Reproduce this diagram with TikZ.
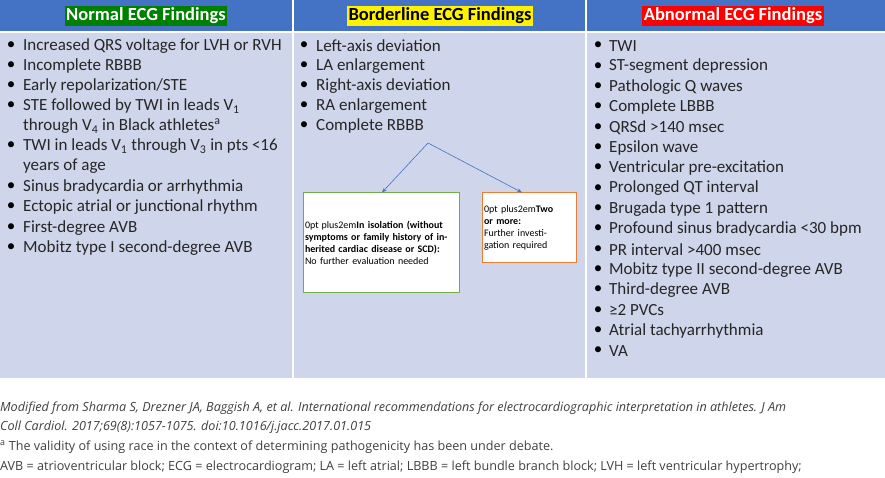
\documentclass[tikz,border=0pt]{standalone}
\usepackage{fontspec}
\setmainfont{Carlito}
\newfontfamily\fnfont{Open Sans}
\usetikzlibrary{arrows.meta}
\definecolor{hdr}{HTML}{4472C4}
\definecolor{cell}{HTML}{CFD5EA}
\definecolor{gr}{HTML}{70AD47}
\definecolor{org}{HTML}{ED7D31}
\definecolor{fn}{HTML}{404040}
\tikzset{
 it/.style={anchor=west,inner sep=0pt,font=\fontsize{17}{19}\selectfont,text=black!85},
 bul/.style={anchor=center,inner sep=0pt,font=\fontsize{17}{19}\selectfont},
 hd/.style={inner sep=1.5pt,font=\fontsize{18.5}{20}\selectfont\bfseries},
 bx/.style={draw=#1,line width=1pt,fill=white,align=center,font=\hyphenpenalty=10000\fontsize{12.5}{15.5}\selectfont},
 fnt/.style={anchor=west,inner sep=0pt,text=fn,font=\fnfont\fontsize{12.6}{14}\selectfont},
 arr/.style={draw=hdr,-{Stealth[length=5pt]},line width=0.6pt}
}
\begin{document}
\begin{tikzpicture}[x=1pt,y=-1pt]
\useasboundingbox (0,0) rectangle (885,478);
\clip (0,0) rectangle (885,478);
\fill[white] (0,0) rectangle (885,478);
\fill[hdr] (0,0) rectangle (292,31);
\fill[hdr] (294,0) rectangle (585,31);
\fill[hdr] (587,0) rectangle (885,31);
\fill[cell] (0,33) rectangle (292,378);
\fill[cell] (294,33) rectangle (585,378);
\fill[cell] (587,33) rectangle (885,378);
\node[hd,fill=green!50!black,text=white] (h1) at (146,16) {Normal ECG Findings};
\node[hd,fill=yellow,text=black] (h2) at (440,16) {Borderline ECG Findings};
\node[hd,fill=red,text=white] (h3) at (733,16) {Abnormal ECG Findings};
% normal
\foreach \t/\y [count=\i] in {{Increased QRS voltage for LVH or RVH}/46,{Incomplete RBBB}/66,{Early repolarization/STE}/86,{STE followed by TWI in leads V\textsubscript{1}}/106,{TWI in leads V\textsubscript{1} through V\textsubscript{3} in pts <16}/146,{Sinus bradycardia or arrhythmia}/187,{Ectopic atrial or junctional rhythm}/207,{First-degree AVB}/228,{Mobitz type I second-degree AVB}/248}{
 \node[bul] (nb\i) at (11,\y) {•};
 \node[it] (n\i) at (23,\y) {\t};
}
\node[it] (n4b) at (23,126) {through V\textsubscript{4} in Black athletes\textsuperscript{a}};
\node[it] (n5b) at (23,166) {years of age};
% borderline
\foreach \t/\y [count=\i] in {Left-axis deviation/46,LA enlargement/66,Right-axis deviation/86,RA enlargement/106,Complete RBBB/126}{
 \node[bul] (bb\i) at (304,\y) {•};
 \node[it] (b\i) at (316,\y) {\t};
}
\coordinate (fork) at (428,143);
\node[bx=gr,text width=152pt,minimum height=99pt,inner sep=2pt] (iso) at (381,242.5) {\textbf{In isolation (without symptoms or family history of inherited cardiac disease or SCD):}\\No further evaluation needed};
\node[bx=org,text width=90pt,minimum height=69pt,inner sep=2pt] (two) at (529,227.5) {\textbf{Two or more:}\\Further investigation required};
\draw[arr] (fork) -- (382,192.5);
\draw[arr] (fork) -- (522,192.5);
% abnormal
\foreach \t [count=\i] in {TWI,ST-segment depression,Pathologic Q waves,Complete LBBB,QRSd >140 msec,Epsilon wave,Ventricular pre-excitation,Prolonged QT interval,Brugada type 1 pattern,Profound sinus bradycardia <30 bpm,PR interval >400 msec,Mobitz type II second-degree AVB,Third-degree AVB,≥2 PVCs,Atrial tachyarrhythmia,VA}{
 \node[bul] (ab\i) at (598,{46+20.33*(\i-1)}) {•};
 \node[it] (a\i) at (609,{46+20.33*(\i-1)}) {\t};
}
% footnotes
\node[fnt,font=\fnfont\itshape\fontsize{12.6}{14}\selectfont] (f1) at (0,408) {Modified from Sharma S, Drezner JA, Baggish A, et al. International recommendations for electrocardiographic interpretation in athletes. J Am};
\node[fnt,font=\fnfont\itshape\fontsize{12.6}{14}\selectfont] (f2) at (0,427) {Coll Cardiol. 2017;69(8):1057-1075. doi:10.1016/j.jacc.2017.01.015};
\node[fnt] (f3) at (0,447) {\textsuperscript{a} The validity of using race in the context of determining pathogenicity has been under debate.};
\node[fnt] (f4) at (0,467) {AVB = atrioventricular block; ECG = electrocardiogram; LA = left atrial; LBBB = left bundle branch block; LVH = left ventricular hypertrophy;};
\end{tikzpicture}
\end{document}
